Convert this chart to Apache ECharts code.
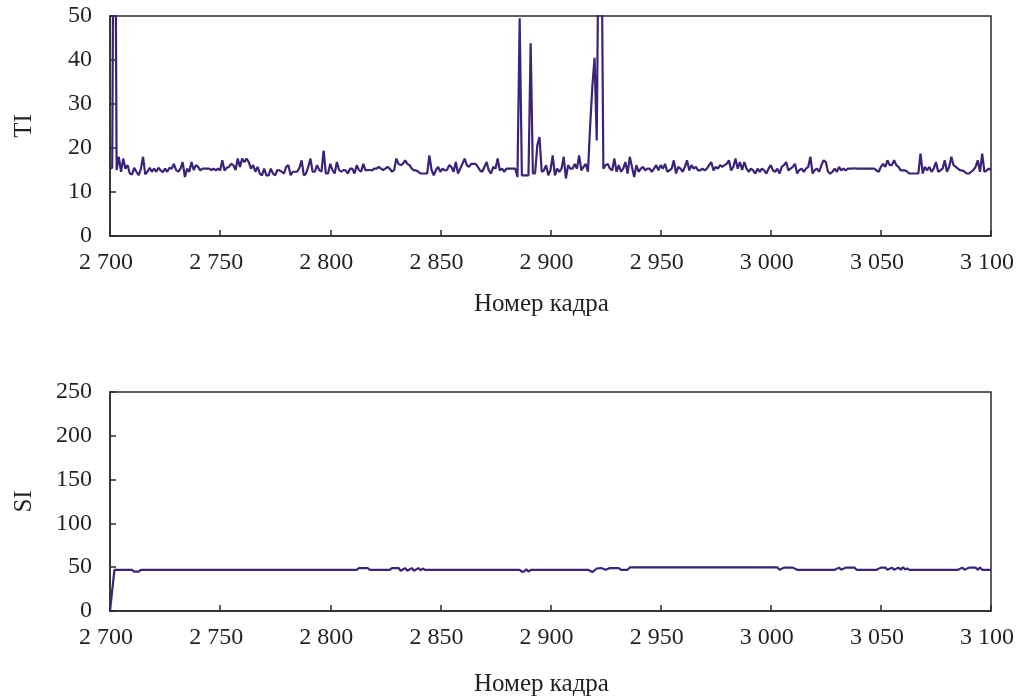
<!DOCTYPE html>
<html>
<head>
<meta charset="utf-8">
<script src="https://cdn.jsdelivr.net/npm/echarts@6/dist/echarts.min.js"></script>
<style>
html,body{margin:0;padding:0;background:#fff;}
#chart{width:1020px;height:698px;}
</style>
</head>
<body>
<div id="chart"></div>
<script>
// ---- data ----
const startFrame = 2700;
// TI per frame, 2700..3100 (values above 50 are clipped at the plot top)
const tiValues = [
  15.3, 15.5, 120, 15.0, 18.0, 14.6, 17.6, 15.3, 16.1, 14.2,
  14.0, 15.5, 14.6, 13.8, 15.2, 18.0, 14.0, 14.6, 15.5, 14.6,
  15.3, 14.6, 15.5, 14.9, 14.5, 15.3, 14.6, 15.5, 15.3, 16.4,
  15.0, 14.6, 15.3, 16.8, 13.4, 15.3, 14.6, 16.8, 15.0, 16.1,
  15.7, 14.9, 15.3, 15.3, 15.3, 15.3, 15.0, 15.3, 14.9, 15.3,
  14.9, 17.2, 14.9, 15.5, 15.7, 16.4, 16.1, 15.0, 17.6, 15.7,
  17.6, 16.8, 17.6, 16.8, 15.3, 16.1, 14.6, 15.7, 14.2, 13.8,
  15.3, 13.8, 13.8, 15.3, 14.2, 13.8, 15.0, 14.9, 14.6, 14.2,
  15.7, 16.1, 13.8, 14.6, 14.6, 14.6, 15.5, 17.2, 13.8, 14.2,
  15.7, 17.6, 14.6, 14.6, 16.1, 15.0, 14.6, 19.4, 14.2, 14.2,
  16.4, 15.0, 14.2, 16.8, 15.0, 14.6, 15.0, 14.9, 14.2, 15.3,
  15.3, 14.2, 16.1, 15.0, 14.6, 16.4, 14.9, 15.0, 15.0, 14.9,
  15.3, 15.3, 15.7, 15.3, 15.0, 15.3, 15.7, 15.3, 14.6, 15.0,
  17.6, 16.4, 16.1, 16.4, 17.2, 16.4, 16.1, 15.3, 14.9, 14.9,
  14.6, 14.2, 14.2, 14.2, 14.2, 18.3, 15.0, 13.8, 15.0, 15.7,
  14.6, 15.3, 14.9, 15.0, 16.1, 15.7, 14.6, 16.8, 14.2, 15.3,
  16.4, 17.6, 16.1, 15.7, 16.4, 16.4, 16.4, 15.7, 14.9, 14.6,
  15.7, 16.8, 14.9, 14.2, 15.7, 15.3, 17.6, 14.9, 15.3, 14.6,
  15.3, 15.3, 15.3, 15.3, 15.3, 13.4, 49.5, 13.8, 13.8, 13.8,
  13.8, 43.8, 14.2, 14.2, 20.6, 22.5, 14.6, 14.9, 16.1, 13.8,
  15.0, 18.3, 13.8, 15.3, 14.6, 15.3, 18.0, 13.1, 16.1, 15.3,
  15.3, 16.4, 15.3, 18.3, 14.9, 15.7, 16.4, 14.6, 25.0, 34.0,
  40.5, 21.7, 80, 80, 15.3, 16.1, 16.4, 15.3, 14.9, 17.6,
  14.6, 16.1, 14.6, 15.3, 16.8, 14.2, 18.0, 15.7, 13.4, 16.1,
  14.6, 15.3, 15.7, 14.9, 15.3, 15.3, 14.6, 15.3, 16.1, 14.9,
  16.1, 15.3, 16.4, 14.6, 14.9, 15.3, 17.2, 14.2, 15.7, 15.3,
  14.6, 15.7, 17.2, 14.9, 16.1, 15.3, 15.7, 14.9, 14.9, 15.3,
  14.9, 15.3, 16.1, 16.8, 14.9, 15.7, 15.3, 16.1, 15.7, 16.1,
  16.4, 17.2, 14.9, 15.7, 17.6, 15.3, 16.8, 15.0, 16.8, 15.3,
  14.6, 15.3, 14.9, 14.2, 15.3, 14.6, 15.3, 14.9, 14.2, 15.3,
  16.1, 14.9, 14.6, 15.3, 14.2, 15.7, 16.1, 16.8, 14.9, 15.3,
  15.7, 16.4, 14.2, 15.0, 15.3, 14.6, 15.3, 15.7, 18.0, 14.2,
  15.0, 15.3, 14.6, 16.1, 17.2, 16.8, 14.6, 14.2, 14.6, 15.3,
  14.6, 15.7, 14.9, 15.3, 14.9, 15.3, 15.3, 15.3, 15.4, 15.3,
  15.3, 15.3, 15.3, 15.3, 15.3, 15.3, 15.3, 15.3, 14.9, 14.6,
  15.7, 16.4, 15.7, 17.2, 16.1, 16.1, 17.2, 16.1, 15.7, 14.9,
  14.9, 14.9, 14.6, 14.2, 14.2, 14.2, 14.2, 14.2, 18.7, 14.2,
  15.7, 14.9, 15.7, 14.6, 15.3, 16.8, 14.6, 14.9, 15.3, 17.2,
  14.6, 15.7, 18.0, 16.1, 15.7, 15.3, 14.9, 14.9, 14.6, 14.2,
  14.2, 14.6, 15.0, 15.7, 17.2, 14.6, 18.7, 14.6, 14.9, 15.3,
  15.0
];
// SI breakpoints (frame, value)
const siFrames = [
  2700, 2702, 2710, 2711, 2713, 2714, 2812, 2813, 2817, 2818,
  2827, 2828, 2831, 2832, 2834, 2835, 2837, 2838, 2840, 2841, 2842, 2843,
  2886, 2887, 2888, 2889, 2890, 2891,
  2917, 2919, 2921, 2923, 2925, 2927, 2931, 2932, 2935, 2936,
  3003, 3004, 3006, 3010, 3012,
  3029, 3031, 3032, 3034, 3038, 3039,
  3048, 3050, 3052, 3053, 3055, 3056, 3058, 3059, 3060, 3061, 3062, 3063,
  3085, 3087, 3088, 3090, 3093, 3094, 3095, 3096, 3100
];
const siValues = [
  0, 47, 47, 45, 45, 47, 47, 49, 49, 47,
  47, 49, 49, 46, 49, 46, 49, 46, 49, 46.5, 48.5, 47,
  47, 45, 45, 47.5, 45, 47,
  47, 44.5, 48.5, 49, 47, 49, 49, 47, 47, 49.7,
  49.7, 47, 49.5, 49.5, 47,
  47, 49.5, 47, 49.5, 49.5, 47,
  47, 49.5, 49.5, 47, 49.5, 47, 49.5, 47, 50, 47.5, 48.5, 47,
  47, 49.5, 47, 49.5, 49.5, 47, 49.5, 47, 47
];
const xTickLabels = ['2 700','2 750','2 800','2 850','2 900','2 950','3 000','3 050','3 100'];
const xTickValues = [2700, 2750, 2800, 2850, 2900, 2950, 3000, 3050, 3100];
const tiTicks = [0, 10, 20, 30, 40, 50];
const siTicks = [0, 50, 100, 150, 200, 250];

// ---- chart ----
const FONT = '"Liberation Serif", "DejaVu Serif", serif';
const TXT = '#231f20';
const LINE = '#3a2378';
const AX = '#2b2b2b';

const tiData = tiValues.map((v, i) => [startFrame + i, v]);
const siData = siFrames.map((f, i) => [f, siValues[i]]);

function xLabel(v) {
  const k = xTickValues.indexOf(v);
  return k >= 0 ? xTickLabels[k] : '';
}

function xAxisCfg(gi, gap) {
  return {
    type: 'value', gridIndex: gi, min: 2700, max: 3100, interval: 50,
    name: 'Номер кадра', nameLocation: 'middle', nameGap: gap,
    nameTextStyle: { fontFamily: FONT, fontSize: 25, color: TXT, padding: [0, 18, 0, 0] },
    axisLine: { show: true, lineStyle: { color: AX, width: 1.5 } },
    axisTick: { show: true, inside: true, length: 6, lineStyle: { color: AX, width: 1.5 } },
    axisLabel: { formatter: xLabel, fontFamily: FONT, fontSize: 24, color: TXT, margin: 15, padding: [0, 8, 0, 0] },
    splitLine: { show: false }
  };
}
function yAxisCfg(gi, name, max, interval, ticks) {
  return {
    type: 'value', gridIndex: gi, min: 0, max: max, interval: interval,
    name: name, nameLocation: 'middle', nameGap: 73, nameRotate: 90,
    nameTextStyle: { fontFamily: FONT, fontSize: 25, color: TXT },
    axisLine: { show: true, lineStyle: { color: AX, width: 1.5 } },
    axisTick: { show: true, inside: true, length: 6, lineStyle: { color: AX, width: 1.5 } },
    axisLabel: {
      formatter: v => (ticks.indexOf(v) >= 0 ? String(v) : ''),
      fontFamily: FONT, fontSize: 24, color: TXT, margin: 18
    },
    splitLine: { show: false }
  };
}

const chart = echarts.init(document.getElementById('chart'), null, { renderer: 'canvas' });
chart.setOption({
  backgroundColor: '#fff',
  animation: false,
  grid: [
    { left: 110, right: 29, top: 16, height: 220, show: true, borderColor: AX, borderWidth: 1.5, backgroundColor: 'transparent' },
    { left: 110, right: 29, top: 392, height: 219, show: true, borderColor: AX, borderWidth: 1.5, backgroundColor: 'transparent' }
  ],
  xAxis: [xAxisCfg(0, 56), xAxisCfg(1, 61)],
  yAxis: [yAxisCfg(0, 'TI', 50, 10, tiTicks), yAxisCfg(1, 'SI', 250, 50, siTicks)],
  series: [
    { type: 'line', xAxisIndex: 0, yAxisIndex: 0, data: tiData, showSymbol: false, clip: true,
      lineStyle: { color: LINE, width: 2.2 } },
    { type: 'line', xAxisIndex: 1, yAxisIndex: 1, data: siData, showSymbol: false, clip: true,
      lineStyle: { color: LINE, width: 2.2 } }
  ]
});
</script>
</body>
</html>
